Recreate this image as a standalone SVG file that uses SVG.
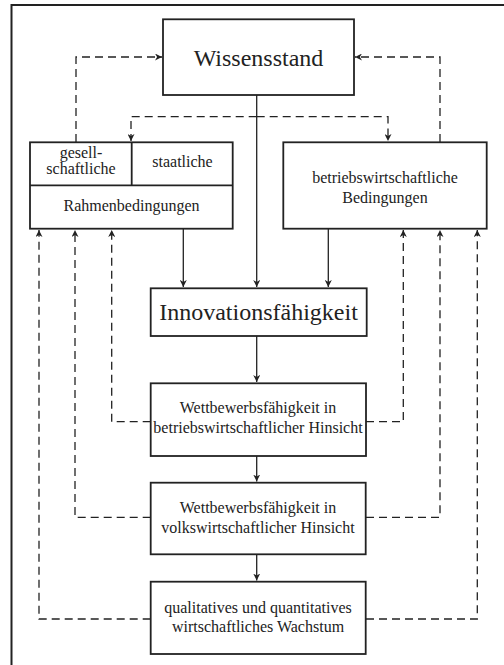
<svg xmlns="http://www.w3.org/2000/svg" width="504" height="665" viewBox="0 0 504 665">
<defs>
<marker id="ah" viewBox="0 0 10 10" refX="10" refY="5" markerWidth="7" markerHeight="7" markerUnits="userSpaceOnUse" orient="auto">
<path d="M0,0 L10,5 L0,10 L3,5 Z" fill="#222"/>
</marker>
</defs>
<style>
.box{fill:#fff;stroke:#222;stroke-width:1.8}
.t{font-family:"Liberation Serif","Times New Roman",serif;fill:#222;text-anchor:middle}
.s{font-size:16px}
.b{font-size:24px}
.c{fill:none;stroke:#222;stroke-width:1.3}
.d{fill:none;stroke:#222;stroke-width:1.3;stroke-dasharray:8 5}
</style>
<rect width="504" height="665" fill="#fff"/>
<path d="M11.5,665 V5 H504" fill="none" stroke="#222" stroke-width="2"/>
<g id="connectors">
<path class="d" d="M76,142 V57 H162" marker-end="url(#ah)"/>
<path class="d" d="M440,142 V57 H355" marker-end="url(#ah)"/>
<path class="d" d="M256.7,116.7 H131 V141" marker-end="url(#ah)"/>
<path class="d" d="M256.7,116.7 H388 V141" marker-end="url(#ah)"/>
<path class="c" d="M256.7,95 V287" marker-end="url(#ah)"/>
<path class="c" d="M183.3,229 V287" marker-end="url(#ah)"/>
<path class="c" d="M328.3,229 V287" marker-end="url(#ah)"/>
<path class="c" d="M256.7,336 V382" marker-end="url(#ah)"/>
<path class="c" d="M256.7,456 V481.5" marker-end="url(#ah)"/>
<path class="c" d="M256.7,554.5 V580.5" marker-end="url(#ah)"/>
<path class="d" d="M150.7,421.7 H111.7 V230" marker-end="url(#ah)"/>
<path class="d" d="M366,421.7 H403.3 V230" marker-end="url(#ah)"/>
<path class="d" d="M150.7,517.3 H75 V230" marker-end="url(#ah)"/>
<path class="d" d="M366,517.3 H440 V230" marker-end="url(#ah)"/>
<path class="d" d="M150.7,619 H39 V230" marker-end="url(#ah)"/>
<path class="d" d="M366,619 H477.3 V230" marker-end="url(#ah)"/>
</g>
<g id="wissensstand">
<rect class="box" x="163" y="19.3" width="191" height="75.7"/>
<text class="t b" x="258.5" y="66">Wissensstand</text>
</g>
<g id="rahmenbedingungen">
<rect class="box" x="30" y="142.3" width="202.7" height="86.4"/>
<path d="M30,185.3 H232.7 M131.7,142.3 V185.3" stroke="#222" stroke-width="1.8" fill="none"/>
<text class="t s" x="81" y="158.3">gesell-</text>
<text class="t s" x="81" y="174.3">schaftliche</text>
<text class="t s" x="182.5" y="167.3">staatliche</text>
<text class="t s" x="131.5" y="210.7">Rahmenbedingungen</text>
</g>
<g id="betriebswirtschaftliche">
<rect class="box" x="283.3" y="142.3" width="203.4" height="86.4"/>
<text class="t s" x="385" y="183.3">betriebswirtschaftliche</text>
<text class="t s" x="385" y="202.7">Bedingungen</text>
</g>
<g id="innovationsfaehigkeit">
<rect class="box" x="150.7" y="288.3" width="216" height="47.7"/>
<text class="t b" x="258.5" y="320">Innovationsfähigkeit</text>
</g>
<g id="wettbewerb-betrieb">
<rect class="box" x="150.7" y="383.3" width="215.3" height="72.7"/>
<text class="t s" x="258" y="413.3">Wettbewerbsfähigkeit in</text>
<text class="t s" x="258" y="432.7">betriebswirtschaftlicher Hinsicht</text>
</g>
<g id="wettbewerb-volk">
<rect class="box" x="150.7" y="482.7" width="215" height="71.6"/>
<text class="t s" x="258" y="513.3">Wettbewerbsfähigkeit in</text>
<text class="t s" x="258" y="533.3">volkswirtschaftlicher Hinsicht</text>
</g>
<g id="wachstum">
<rect class="box" x="150.7" y="581.7" width="215" height="72.3"/>
<text class="t s" x="258" y="612.7">qualitatives und quantitatives</text>
<text class="t s" x="258" y="632.3">wirtschaftliches Wachstum</text>
</g>
</svg>
